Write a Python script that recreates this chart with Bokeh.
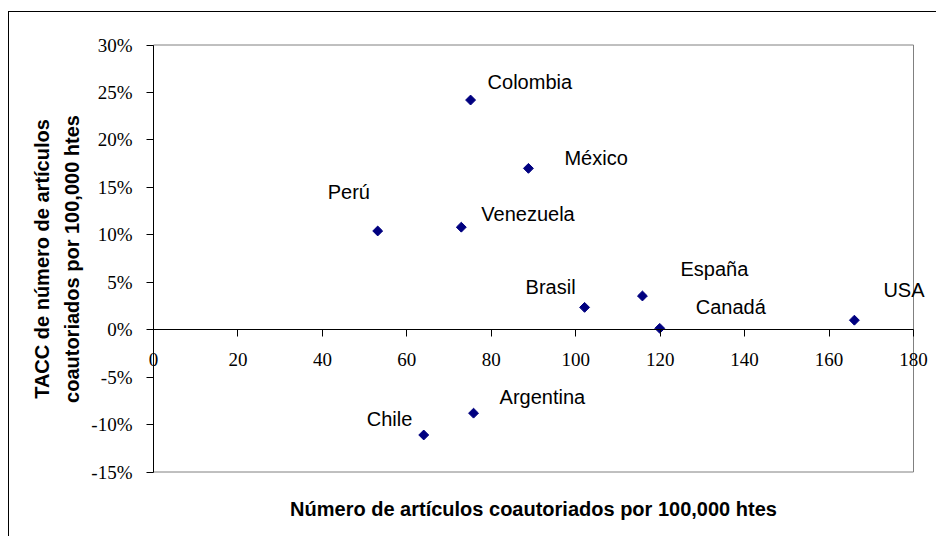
import math
from bokeh.plotting import figure
from bokeh.models import (ColumnDataSource, Label, LinearAxis, FixedTicker,
                          NumeralTickFormatter, Range1d)
from bokeh.embed import file_html
from bokeh.resources import INLINE

# ---- data ----
countries = ["Colombia", "México", "Perú", "Venezuela", "Brasil",
             "España", "Canadá", "USA", "Argentina", "Chile"]
articles = [75.1, 88.8, 53.1, 72.9, 102.1, 115.8, 119.9, 166.0, 75.8, 64.0]
tacc = [0.242, 0.170, 0.104, 0.108, 0.0235, 0.0355, 0.0014, 0.010, -0.088, -0.111]

x_ticks = [0, 20, 40, 60, 80, 100, 120, 140, 160, 180]
y_ticks = [-0.15, -0.10, -0.05, 0.0, 0.05, 0.10, 0.15, 0.20, 0.25, 0.30]

x_title = "Número de artículos coautoriados por 100,000 htes"
y_title = "TACC de número de artículos\ncoautoriados por 100,000 htes"

# label placement (pixels, relative to marker)
label_dx = [17, 36, -50, 20, -59, 38, 36, 29, 26, -57]
label_dy = [18, 10, 39, 13, 20, 27, 21, 30, 16, 16]

# ---- layout (pixels) ----
W, H = 928, 525                 # canvas size
BOX_L, BOX_R = 144, 904         # plot-area box inside canvas
BOX_T, BOX_B = 32.5, 459.5

x0, x1 = x_ticks[0], x_ticks[-1]
y0, y1 = y_ticks[0], y_ticks[-1]
xs = (BOX_R - BOX_L) / (x1 - x0)
ys = (BOX_B - BOX_T) / (y1 - y0)
x_range = Range1d(x0 - BOX_L / xs, x1 + (W - BOX_R) / xs)
y_range = Range1d(y0 - (H - BOX_B) / ys, y1 + BOX_T / ys)

src = ColumnDataSource(dict(x=articles, y=tacc, name=countries))

p = figure(width=W, height=H, output_backend="svg", toolbar_location=None,
           x_range=x_range, y_range=y_range,
           x_axis_location=None, y_axis_location=None,
           min_border=0, min_border_left=0, min_border_right=0,
           min_border_top=0, min_border_bottom=0)
p.margin = (11, 0, 0, 8)
p.styles = {"border-top": "1px solid #000000", "border-left": "1px solid #000000"}

p.grid.visible = False
p.outline_line_color = None
p.background_fill_color = "white"
p.border_fill_color = "white"

# plot-area box
p.quad(left=[x0], right=[x1], bottom=[y0], top=[y1],
       fill_color=None, line_color="#808080", line_width=1)

TICK_FONT = "Liberation Serif"
TICK_SIZE = "19px"

# y axis at x = 0
ya = LinearAxis(ticker=FixedTicker(ticks=y_ticks), fixed_location=x0,
                bounds=(y0, y1))
ya.formatter = NumeralTickFormatter(format="0%")
ya.major_tick_out = 7
ya.major_tick_in = 0
ya.minor_tick_out = 0
ya.minor_tick_in = 0
ya.axis_line_color = "black"
ya.major_tick_line_color = "black"
ya.major_label_text_font = TICK_FONT
ya.major_label_text_font_size = TICK_SIZE
ya.major_label_text_color = "black"
ya.major_label_standoff = 14
ya.axis_label = y_title
ya.axis_label_text_font = "Liberation Sans"
ya.axis_label_text_font_style = "bold"
ya.axis_label_text_font_size = "20px"
ya.axis_label_text_color = "black"
ya.axis_label_text_line_height = 1.4
ya.axis_label_standoff = 5
p.add_layout(ya, "left")

# x axis crossing at y = 0
xa = LinearAxis(ticker=FixedTicker(ticks=x_ticks), fixed_location=0,
                bounds=(x0, x1))
xa.major_tick_out = 7
xa.major_tick_in = 0
xa.minor_tick_out = 0
xa.minor_tick_in = 0
xa.axis_line_color = "black"
xa.major_tick_line_color = "black"
xa.major_label_text_font = TICK_FONT
xa.major_label_text_font_size = TICK_SIZE
xa.major_label_text_color = "black"
xa.major_label_standoff = 16
p.add_layout(xa, "below")

# axis carrying only the x title, under the plot area
ta = LinearAxis(ticker=FixedTicker(ticks=[]), fixed_location=y0, bounds=(x0, x1))
ta.axis_line_color = None
ta.major_tick_out = 0
ta.major_tick_in = 0
ta.minor_tick_out = 0
ta.minor_tick_in = 0
ta.major_label_text_font_size = "0px"
ta.axis_label = x_title
ta.axis_label_text_font = "Liberation Sans"
ta.axis_label_text_font_style = "bold"
ta.axis_label_text_font_size = "20px"
ta.axis_label_text_color = "black"
ta.axis_label_standoff = 25
p.add_layout(ta, "below")

p.scatter("x", "y", source=src, marker="square", angle=math.pi / 4,
          size=7, fill_color="#000080", line_color="#000080")

for name, x, y, dx, dy in zip(countries, articles, tacc, label_dx, label_dy):
    p.add_layout(Label(x=x, y=y, text=name, x_offset=dx, y_offset=dy,
                       text_align="left", text_baseline="middle",
                       text_font="Liberation Sans", text_font_size="20px",
                       text_color="black"))

open("out.html", "w").write(file_html(p, INLINE))
